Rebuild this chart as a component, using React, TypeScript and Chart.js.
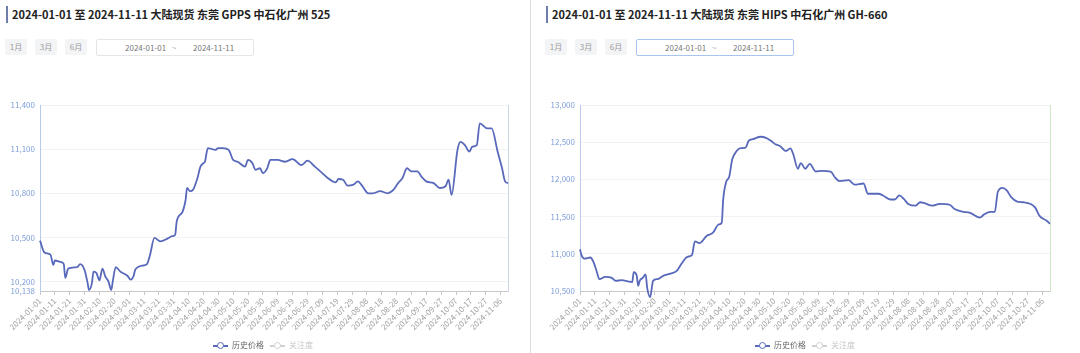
import React, { useEffect, useRef } from "react";
import { Chart, registerables } from "chart.js";
Chart.register(...registerables);

const FONT = "'Noto Sans CJK SC', 'Noto Sans', sans-serif";
const LINE_COLOR = "#5868ba";

// x tick labels (every 10 days) and their day offsets from 2024-01-01
const X_TICK_DAYS = [0, 10, 20, 30, 40, 50, 60, 70, 80, 90, 100, 110, 120, 130, 140, 150, 160, 170, 180, 190, 200, 210, 220, 230, 240, 250, 260, 270, 280, 290, 300, 310];
const X_TICK_LABELS = [
  "2024-01-01", "2024-01-11", "2024-01-21", "2024-01-31", "2024-02-10", "2024-02-20", "2024-03-01", "2024-03-11",
  "2024-03-21", "2024-03-31", "2024-04-10", "2024-04-20", "2024-04-30", "2024-05-10", "2024-05-20", "2024-05-30",
  "2024-06-09", "2024-06-19", "2024-06-29", "2024-07-09", "2024-07-19", "2024-07-29", "2024-08-08", "2024-08-18",
  "2024-08-28", "2024-09-07", "2024-09-17", "2024-09-27", "2024-10-07", "2024-10-17", "2024-10-27", "2024-11-06",
];

// GPPS series
const GPPS_DAYS = [0, 3, 7, 9, 10, 14, 16, 17, 19, 25, 27, 30, 32, 33, 35, 36, 38, 40, 42, 44, 46, 48, 49, 51, 54, 59, 61, 63, 64, 66, 69, 72, 74, 77, 81, 86, 89, 91, 92, 96, 98, 99, 101, 103, 106, 108, 110, 111, 113, 116, 118, 120, 123, 127, 130, 133, 138, 140, 143, 145, 148, 150, 153, 155, 160, 165, 170, 176, 180, 185, 190, 193, 199, 201, 204, 207, 211, 214, 217, 221, 224, 229, 234, 238, 241, 244, 247, 250, 254, 257, 260, 265, 269, 273, 275, 277, 281, 283, 286, 289, 291, 294, 296, 301, 304, 308, 311, 313, 315];
const GPPS_VALUES = [10480, 10400, 10385, 10315, 10345, 10335, 10320, 10227, 10290, 10300, 10320, 10280, 10195, 10145, 10195, 10270, 10260, 10210, 10290, 10236, 10205, 10145, 10205, 10300, 10270, 10240, 10215, 10240, 10280, 10300, 10310, 10320, 10380, 10498, 10475, 10495, 10510, 10520, 10609, 10677, 10756, 10837, 10815, 10825, 10905, 10982, 11005, 11015, 11108, 11100, 11095, 11108, 11108, 11095, 11027, 11015, 10982, 11027, 11005, 10960, 10971, 10938, 10972, 11027, 11027, 11015, 11033, 10993, 11022, 10982, 10938, 10910, 10875, 10898, 10893, 10853, 10860, 10882, 10849, 10801, 10801, 10815, 10801, 10825, 10870, 10905, 10971, 10950, 10950, 10910, 10882, 10870, 10837, 10849, 10893, 10790, 11095, 11150, 11128, 11084, 11117, 11128, 11276, 11242, 11242, 11084, 10971, 10882, 10870];
const GPPS_Y_TICKS = [10138, 10200, 10500, 10800, 11100, 11400];

// HIPS series
const HIPS_DAYS = [0, 1, 3, 7, 9, 11, 13, 17, 21, 24, 28, 32, 35, 36, 38, 39, 40, 42, 44, 45, 47, 49, 52, 56, 60, 65, 68, 72, 75, 77, 80, 85, 89, 93, 95, 96, 98, 100, 102, 105, 107, 111, 113, 116, 121, 125, 128, 131, 134, 138, 141, 143, 146, 148, 151, 154, 158, 162, 168, 171, 174, 180, 184, 190, 193, 200, 203, 208, 211, 214, 217, 220, 225, 228, 231, 236, 241, 248, 251, 257, 261, 268, 271, 275, 278, 280, 283, 286, 289, 293, 297, 302, 305, 308, 313, 315];
const HIPS_VALUES = [11060, 10982, 10936, 10950, 10890, 10775, 10660, 10690, 10680, 10637, 10645, 10630, 10620, 10753, 10708, 10569, 10637, 10677, 10722, 10546, 10418, 10637, 10660, 10707, 10730, 10775, 10867, 10960, 10982, 11166, 11143, 11243, 11280, 11394, 11417, 11738, 11968, 12037, 12267, 12381, 12418, 12427, 12518, 12541, 12573, 12555, 12518, 12472, 12450, 12381, 12418, 12335, 12143, 12220, 12143, 12210, 12106, 12115, 12106, 12023, 11977, 11990, 11931, 11945, 11807, 11807, 11784, 11730, 11730, 11784, 11738, 11670, 11647, 11693, 11680, 11647, 11670, 11656, 11601, 11564, 11555, 11487, 11532, 11564, 11564, 11830, 11885, 11853, 11761, 11702, 11693, 11670, 11624, 11510, 11441, 11404];
const HIPS_Y_TICKS = [10500, 11000, 11500, 12000, 12500, 13000];

const LEGEND_LABELS = ["历史价格", "关注度"];

type ChartProps = {
  days: number[];
  values: number[];
  yTicks: number[];
  rightPad: number;
  rightBorder: string;
};

function PriceChart({ days, values, yTicks, rightPad, rightBorder }: ChartProps) {
  const ref = useRef<HTMLCanvasElement>(null);
  useEffect(() => {
    if (!ref.current) return;
    const chart = new Chart(ref.current, {
      type: "line",
      data: {
        datasets: [
          {
            label: LEGEND_LABELS[0],
            data: days.map((d, i) => ({ x: d, y: values[i] })),
            borderColor: LINE_COLOR,
            backgroundColor: LINE_COLOR,
            borderWidth: 1.8,
            pointRadius: 0,
            tension: 0.4,
            cubicInterpolationMode: "monotone",
            clip: { left: 2, right: 2, top: 2, bottom: 8 },
          } as any,
        ],
      },
      options: {
        animation: false,
        responsive: false,
        maintainAspectRatio: false,
        layout: { padding: { top: 45, right: rightPad, left: 0, bottom: 0 } },
        plugins: { legend: { display: false }, tooltip: { enabled: false } },
        scales: {
          x: {
            type: "linear",
            min: 0,
            max: 315,
            afterBuildTicks: (s: any) => {
              s.ticks = X_TICK_DAYS.map((v) => ({ value: v }));
            },
            afterFit: (s: any) => {
              s.height = 62;
            },
            ticks: {
              autoSkip: false,
              maxRotation: 45,
              minRotation: 45,
              padding: 1,
              font: { size: 8, family: FONT },
              color: "#a0a0a0",
              callback: (v: any) => {
                const i = X_TICK_DAYS.indexOf(Number(v));
                return i >= 0 ? X_TICK_LABELS[i] : "";
              },
            },
            grid: { drawOnChartArea: false, drawTicks: true, tickLength: 4, color: "#c8c8c8" },
            border: { color: "#c8c8c8" },
          },
          y: {
            type: "linear",
            min: yTicks[0],
            max: yTicks[yTicks.length - 1],
            afterBuildTicks: (s: any) => {
              s.ticks = yTicks.map((v) => ({ value: v }));
            },
            afterFit: (s: any) => {
              s.width = 40;
            },
            ticks: {
              font: { size: 8, family: FONT },
              color: "#7d9ed6",
              padding: 5,
              callback: (v: any) => Number(v).toLocaleString("en-US"),
            },
            grid: { color: "#f2f2f2", drawTicks: false },
            border: { color: "#b8cbee" },
          },
          y2: {
            type: "linear",
            position: "right",
            min: 0,
            max: 1,
            ticks: { display: false },
            afterFit: (s: any) => {
              s.width = 0;
            },
            grid: { drawOnChartArea: false, drawTicks: false },
            border: { color: rightBorder },
          },
        },
      },
    });
    return () => chart.destroy();
  }, [days, values, yTicks, rightPad, rightBorder]);
  return <canvas ref={ref} width={530} height={293} style={{ position: "absolute", left: 0, top: 60, width: 530, height: 293 }} />;
}

function Legend({ left }: { left: number }) {
  const icon = (color: string) => (
    <span style={{ position: "relative", display: "inline-block", width: 15, height: 8, marginRight: 4, verticalAlign: "middle" }}>
      <span style={{ position: "absolute", left: 0, top: 3.5, width: 15, height: 1.5, background: color }} />
      <span style={{ position: "absolute", left: 3.5, top: 0, width: 5, height: 5, borderRadius: "50%", border: `1.5px solid ${color}`, background: "#fff" }} />
    </span>
  );
  return (
    <div style={{ position: "absolute", left, top: 339, height: 12, fontSize: 8, fontFamily: FONT, lineHeight: "12px", whiteSpace: "nowrap" }}>
      {icon(LINE_COLOR)}
      <span style={{ color: "#666", marginRight: 6 }}>{LEGEND_LABELS[0]}</span>
      {icon("#d0d0d0")}
      <span style={{ color: "#c8c8c8" }}>{LEGEND_LABELS[1]}</span>
    </div>
  );
}

function Panel(props: {
  left: number;
  title: string;
  focused: boolean;
  days: number[];
  values: number[];
  yTicks: number[];
  rightPad: number;
  rightBorder: string;
  legendLeft: number;
}) {
  const btn = (label: string, x: number) => (
    <div
      style={{
        position: "absolute", left: x, top: 39, width: 22, height: 16, background: "#f3f4f6", color: "#9a9a9a",
        fontSize: 8, lineHeight: "16px", textAlign: "center", fontFamily: FONT, borderRadius: 2,
      }}
    >
      {label}
    </div>
  );
  return (
    <div style={{ position: "absolute", left: props.left, top: 0, width: 530, height: 353 }}>
      <div style={{ position: "absolute", left: 6, top: 6, width: 2, height: 17, background: "#6d7fa8" }} />
      <div style={{ position: "absolute", left: 12, top: 6, height: 17, lineHeight: "17px", fontSize: 11, fontWeight: "bold", color: "#222", fontFamily: FONT, whiteSpace: "nowrap" }}>
        {props.title}
      </div>
      {btn("1月", 5)}
      {btn("3月", 35)}
      {btn("6月", 65)}
      <div
        style={{
          position: "absolute", left: 96, top: 39, width: 156, height: 15,
          border: props.focused ? "1px solid #a9c4ef" : "1px solid #e6e6e6", borderRadius: 2,
          fontSize: 8, fontFamily: FONT, color: "#777", lineHeight: "15px", background: "#fff",
        }}
      >
        <span style={{ position: "absolute", left: 28 }}>2024-01-01</span>
        <span style={{ position: "absolute", left: 75, color: "#aaa" }}>~</span>
        <span style={{ position: "absolute", left: 96 }}>2024-11-11</span>
      </div>
      <PriceChart days={props.days} values={props.values} yTicks={props.yTicks} rightPad={props.rightPad} rightBorder={props.rightBorder} />
      <Legend left={props.legendLeft} />
    </div>
  );
}

export default function App() {
  return (
    <div style={{ position: "absolute", left: 0, top: 0, width: 1080, height: 353, background: "#fff", overflow: "hidden" }}>
      <Panel
        left={0}
        title="2024-01-01 至 2024-11-11 大陆现货 东莞 GPPS 中石化广州 525"
        focused={false}
        days={GPPS_DAYS}
        values={GPPS_VALUES}
        yTicks={GPPS_Y_TICKS}
        rightPad={22}
        rightBorder="#cdd6e6"
        legendLeft={213}
      />
      <div style={{ position: "absolute", left: 530, top: 0, width: 1, height: 353, background: "#dcdcdc" }} />
      <Panel
        left={540}
        title="2024-01-01 至 2024-11-11 大陆现货 东莞 HIPS 中石化广州 GH-660"
        focused={true}
        days={HIPS_DAYS}
        values={HIPS_VALUES}
        yTicks={HIPS_Y_TICKS}
        rightPad={20}
        rightBorder="#cfe6c8"
        legendLeft={215}
      />
    </div>
  );
}
